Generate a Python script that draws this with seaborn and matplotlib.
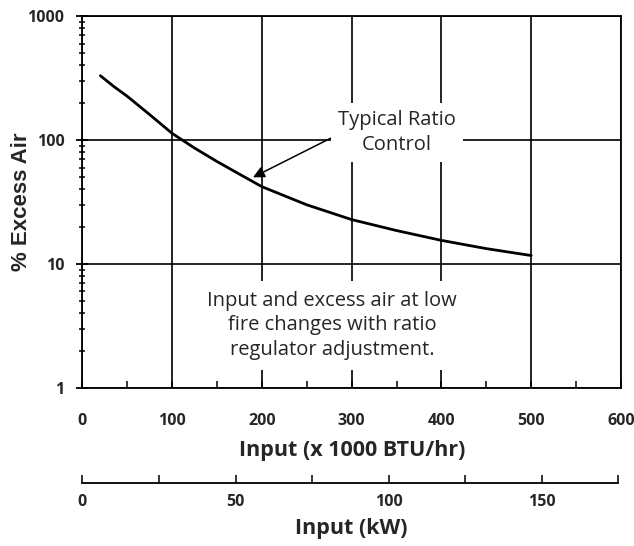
import matplotlib
matplotlib.use("Agg")
import matplotlib.pyplot as plt
import matplotlib.ticker as mticker
import seaborn as sns
import pandas as pd

# curve: input (x 1000 BTU/hr) vs % excess air
input_kbtu = [20, 35, 50, 75, 100, 125, 150, 175, 200, 250, 300, 350, 400, 450, 500]
excess_air = [330, 270, 225, 160, 113, 86, 67, 53, 42, 30, 22.8, 18.6, 15.5, 13.3, 11.7]

x_ticks = [0, 100, 200, 300, 400, 500, 600]
x_minor = [50, 150, 250, 350, 450, 550]
y_ticks = [1, 10, 100, 1000]
y_tick_labels = ["1", "10", "100", "1000"]
kw_ticks = [0, 50, 100, 150]
kw_minor = [25, 75, 125, 175]
kbtu_per_kw = 3.412

note_text = "Input and excess air at low\nfire changes with ratio\nregulator adjustment."
callout_text = "Typical Ratio\nControl"

df = pd.DataFrame({"input": input_kbtu, "excess": excess_air})

sns.set_theme(style="white")
plt.rcParams["font.family"] = ["Open Sans", "DejaVu Sans"]

fig = plt.figure(figsize=(6.34, 5.46), dpi=100)
ax = fig.add_axes([0.130, 0.2894, 0.8495, 0.6813])

sns.lineplot(data=df, x="input", y="excess", color="black", linewidth=2.0, ax=ax, zorder=4)

ax.set_yscale("log")
ax.set_xlim(0, 600)
ax.set_ylim(1, 1000)

ax.set_xticks(x_ticks)
ax.set_xticks(x_minor, minor=True)
ax.set_xticklabels([str(t) for t in x_ticks], fontsize=11.5, fontweight="bold")
ax.set_yticks(y_ticks)
ax.set_yticklabels(y_tick_labels, fontsize=11.5, fontweight="bold")
ax.yaxis.set_minor_locator(mticker.LogLocator(base=10, subs=range(2, 10)))
ax.yaxis.set_minor_formatter(mticker.NullFormatter())

ax.tick_params(axis="x", which="both", direction="in", length=5, width=1.1,
               color="black", pad=18, bottom=True, top=False)
ax.tick_params(axis="y", which="major", direction="inout", length=8, width=1.3,
               color="black", pad=9, left=True, right=False)
ax.tick_params(axis="y", which="minor", direction="inout", length=5, width=1.1,
               color="black", left=True, right=False)

ax.grid(True, which="major", color="black", linewidth=1.2)
ax.grid(False, which="minor")
for s in ax.spines.values():
    s.set_color("black")
    s.set_linewidth(1.3)

ax.set_xlabel("Input (x 1000 BTU/hr)", fontsize=15.5, fontweight="bold", labelpad=8)
ax.set_ylabel("% Excess Air", fontsize=16, fontweight="bold",
              family=["Liberation Sans", "DejaVu Sans"])
ax.yaxis.label.set_va("center")
ax.yaxis.set_label_coords(-0.113, 0.5)

ax.annotate(callout_text, xy=(190, 50), xytext=(350, 115),
            ha="center", va="center", fontsize=14.5, linespacing=1.3, zorder=5,
            bbox=dict(boxstyle="square,pad=0.35", fc="white", ec="none"),
            arrowprops=dict(arrowstyle="-|>", color="black", lw=1.1, relpos=(0, 0.45),
                            shrinkA=0, shrinkB=0, mutation_scale=17))
ax.text(278, 3.2, note_text, ha="center", va="center", multialignment="center",
        fontsize=14.5, linespacing=1.3, zorder=5,
        bbox=dict(boxstyle="square,pad=0.5", fc="white", ec="none"))

# second scale in kW underneath
ax2 = fig.add_axes([0.130, 0.1154, 0.8495, 0.001])
ax2.set_xlim(0, 600 / kbtu_per_kw)
ax2.set_yticks([])
for side in ["top", "left", "right"]:
    ax2.spines[side].set_visible(False)
ax2.spines["bottom"].set_bounds(0, 175)
ax2.spines["bottom"].set_color("black")
ax2.spines["bottom"].set_linewidth(1.3)
ax2.set_xticks(kw_ticks)
ax2.set_xticks(kw_minor, minor=True)
ax2.set_xticklabels([str(t) for t in kw_ticks], fontsize=11.5, fontweight="bold")
ax2.tick_params(axis="x", which="both", direction="in", length=6, width=1.1,
                color="black", pad=8, bottom=True)
ax2.patch.set_alpha(0)
ax2.set_xlabel("Input (kW)", fontsize=15.5, fontweight="bold", labelpad=6)

fig.savefig("out.png", dpi=100)
